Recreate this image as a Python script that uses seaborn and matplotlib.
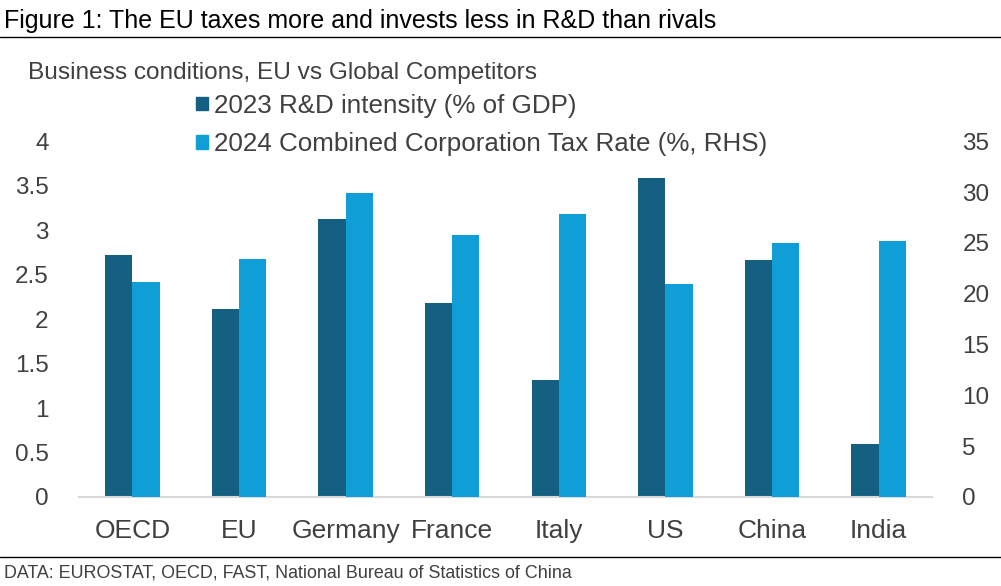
import pandas as pd
import seaborn as sns
import matplotlib.pyplot as plt
from matplotlib.patches import Patch

##chart values
countries = ['OECD', 'EU', 'Germany', 'France', 'Italy', 'US', 'China', 'India']
rd_intensity = [2.72, 2.11, 3.13, 2.18, 1.32, 3.59, 2.66, 0.60]
tax_rate = [21.1, 23.4, 29.9, 25.8, 27.8, 21.0, 25.0, 25.2]
left_ticks = [0, 0.5, 1, 1.5, 2, 2.5, 3, 3.5, 4]
right_ticks = [0, 5, 10, 15, 20, 25, 30, 35]

rd_name = '2023 R&D intensity (% of GDP)'
tax_name = '2024 Combined Corporation Tax Rate (%, RHS)'
dark = '#156082'
light = '#0F9ED5'
grey_txt = '#404040'

df = pd.DataFrame({
    'country': countries * 2,
    'series': [rd_name] * len(countries) + [tax_name] * len(countries),
    'value': rd_intensity + tax_rate,
})

sns.set_style('white')
plt.rcParams['font.family'] = ['Liberation Sans', 'DejaVu Sans']

fig = plt.figure(figsize=(10.01, 5.86), dpi=100)
ax = fig.add_axes([0.079, 0.152, 0.852, 0.607])
ax2 = ax.twinx()

pal = {rd_name: dark, tax_name: light}
sns.barplot(data=df[df['series'] == rd_name], x='country', y='value', hue='series',
            hue_order=[rd_name, tax_name], palette=pal, width=0.51, dodge=True,
            order=countries, ax=ax, legend=False, saturation=1, linewidth=0)
sns.barplot(data=df[df['series'] == tax_name], x='country', y='value', hue='series',
            hue_order=[rd_name, tax_name], palette=pal, width=0.51, dodge=True,
            order=countries, ax=ax2, legend=False, saturation=1, linewidth=0)

ax.set_ylim(0, 4)
ax2.set_ylim(0, 35)
ax.set_xlim(-0.5, len(countries) - 0.5)
ax.set_yticks(left_ticks)
ax.set_yticklabels([f'{t:g}' for t in left_ticks])
ax2.set_yticks(right_ticks)
ax.set_xlabel('')
ax.set_ylabel('')
ax2.set_ylabel('')

for a in (ax, ax2):
    for s in a.spines.values():
        s.set_visible(False)
    a.tick_params(length=0, labelsize=17.5, colors=grey_txt)
ax.spines['bottom'].set_visible(True)
ax.spines['bottom'].set_color('#D9D9D9')
ax.spines['bottom'].set_linewidth(1.5)
ax.tick_params(axis='x', pad=16, labelsize=19)
ax.tick_params(axis='y', pad=22)
ax2.tick_params(axis='y', pad=22)

##legend
handles = [Patch(color=dark, label=rd_name), Patch(color=light, label=tax_name)]
fig.legend(handles=handles, loc='upper left', bbox_to_anchor=(0.196, 0.840),
           frameon=False, fontsize=18.7, handlelength=0.45, handleheight=0.45,
           handletextpad=0.25, labelspacing=0.55, labelcolor=grey_txt, borderaxespad=0,
           borderpad=0)

##title, subtitle, rules, source
fig.text(0.004, 0.964, 'Figure 1: The EU taxes more and invests less in R&D than rivals',
         fontsize=18, va='center', ha='left', color='black')
fig.add_artist(plt.Line2D([0, 1], [0.937, 0.937], color='black', lw=1))
fig.text(0.028, 0.876, 'Business conditions, EU vs Global Competitors',
         fontsize=17.6, va='center', ha='left', color=grey_txt)
fig.add_artist(plt.Line2D([0, 1], [0.049, 0.049], color='black', lw=1))
fig.text(0.004, 0.022, 'DATA: EUROSTAT, OECD, FAST, National Bureau of Statistics of China',
         fontsize=12.9, va='center', ha='left', color=grey_txt)

fig.savefig('out.png', dpi=100)
